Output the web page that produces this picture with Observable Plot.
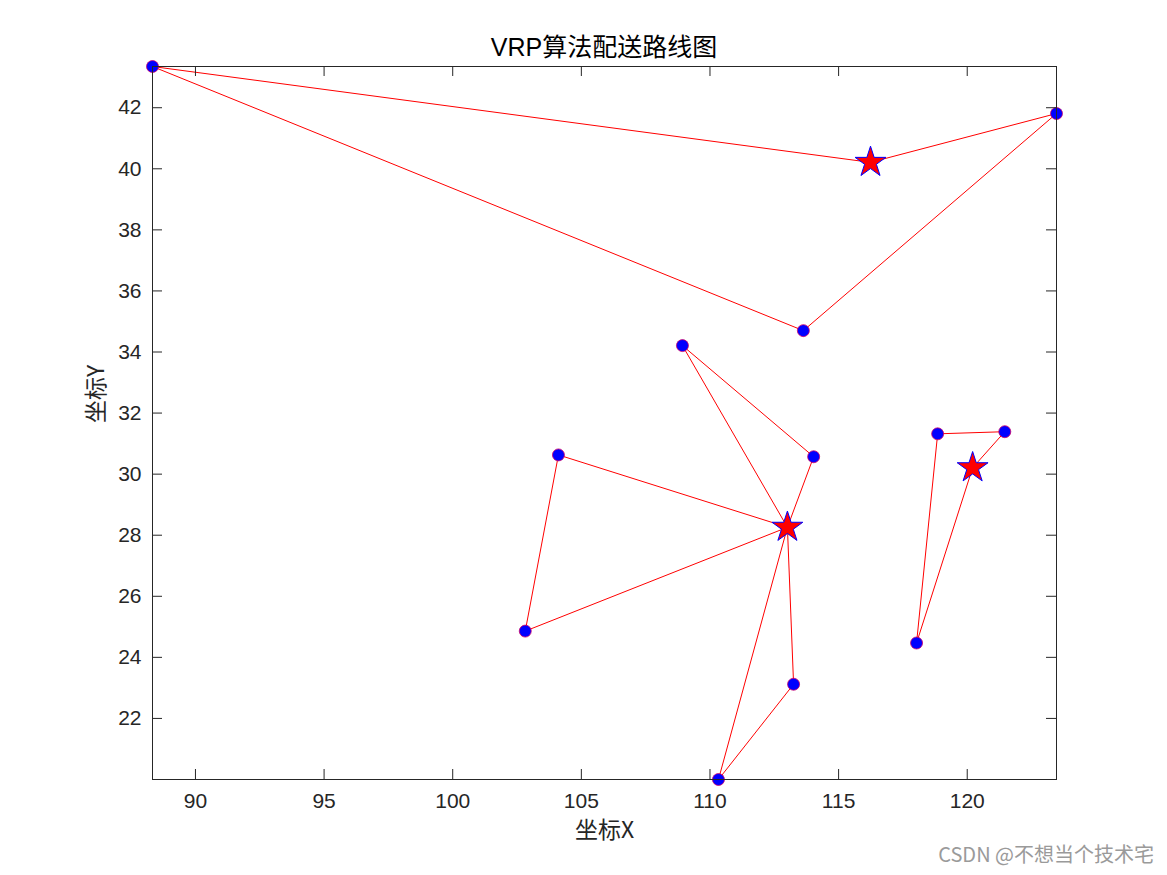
<!DOCTYPE html>
<html>
<head>
<meta charset="utf-8">
<script src="https://cdn.jsdelivr.net/npm/d3@7"></script>
<script src="https://cdn.jsdelivr.net/npm/@observablehq/plot@0.6"></script>
<style>
  html, body { margin: 0; padding: 0; background: #fff; }
  #wrap { position: relative; width: 1167px; height: 875px; overflow: hidden; }
  #title { box-sizing: border-box; height: 61px; padding-top: 33px; padding-left: 152px; width: 1056px;
    text-align: center; font: 25px/28px "Liberation Sans", "Noto Sans CJK SC", sans-serif; color: #000; }
  #mark { position: absolute; right: 13px; top: 842px; font: 20px/24px "Noto Sans CJK SC", "Liberation Sans", sans-serif; color: #9a9a9a; }
</style>
</head>
<body>
<div id="wrap">
  <div id="title">VRP算法配送路线图</div>
  <div id="chart"></div>
  <div id="mark">CSDN @不想当个技术宅</div>
</div>
<script>
// Depots (stars)
const depotX = [116.24, 113.01, 120.21];
const depotY = [40.21, 28.26, 30.21];
// Customers (blue dots)
const customerX = [88.33, 113.63, 123.47, 108.93, 114.03, 104.11, 102.82, 110.33, 113.25, 121.46, 118.85, 118.03];
const customerY = [43.35, 34.70, 41.81, 34.21, 30.57, 30.63, 24.86, 20.00, 23.12, 31.39, 31.32, 24.47];
// Routes: depot index and ordered customer indices
const routeDepot = [0, 1, 1, 1, 2];
const routeStops = [[0, 1, 2], [3, 4], [5, 6], [7, 8], [9, 10, 11]];
// Tick labels
const xTicks = [90, 95, 100, 105, 110, 115, 120];
const yTicks = [22, 24, 26, 28, 30, 32, 34, 36, 38, 40, 42];
const xLabel = "坐标X";
const yLabel = "坐标Y";

const depots = depotX.map((x, i) => ({x, y: depotY[i]}));
const customers = customerX.map((x, i) => ({x, y: customerY[i]}));
const lineRows = [];
routeStops.forEach((stops, r) => {
  const d = routeDepot[r];
  lineRows.push({route: r, x: depotX[d], y: depotY[d]});
  stops.forEach(s => lineRows.push({route: r, x: customerX[s], y: customerY[s]}));
  lineRows.push({route: r, x: depotX[d], y: depotY[d]});
});
const allX = customerX.concat(depotX);
const allY = customerY.concat(depotY);

const W = 1167, H = 814, mT = 5, mR = 111, mB = 96, mL = 152;
const innerW = W - mL - mR, innerH = H - mT - mB, tick = 10;
const axisColor = "#262626";

const chart = Plot.plot({
  width: W, height: H,
  marginTop: mT, marginRight: mR, marginBottom: mB, marginLeft: mL,
  x: {domain: d3.extent(allX), label: null},
  y: {domain: d3.extent(allY), label: null},
  style: {fontFamily: "'Liberation Sans', 'Noto Sans CJK SC', sans-serif", color: axisColor, background: "white", overflow: "visible"},
  marks: [
    Plot.line(lineRows, {x: "x", y: "y", z: "route", stroke: "#ff0000", strokeWidth: 1}),
    Plot.dot(customers, {x: "x", y: "y", r: 6, fill: "#0000ff", stroke: "#d0006a", strokeWidth: 0.8}),
    Plot.dot(depots, {x: "x", y: "y", symbol: "star", r: 9.7, fill: "#ff0000", stroke: "#0000ff", strokeWidth: 1}),
    Plot.tickX(xTicks, {x: d => d, insetTop: innerH - tick, stroke: axisColor}),
    Plot.tickX(xTicks, {x: d => d, insetBottom: innerH - tick, stroke: axisColor}),
    Plot.tickY(yTicks, {y: d => d, insetLeft: innerW - tick, stroke: axisColor}),
    Plot.tickY(yTicks, {y: d => d, insetRight: innerW - tick, stroke: axisColor}),
    Plot.frame({stroke: axisColor}),
    Plot.axisX(xTicks, {tickSize: 0, tickPadding: 14, fontSize: 21, label: null, fill: axisColor}),
    Plot.axisY(yTicks, {tickSize: 0, tickPadding: 11, fontSize: 21, label: null, fill: axisColor}),
    Plot.text([xLabel], {text: d => d, frameAnchor: "bottom", dy: 58, fontSize: 23, fill: axisColor,
      fontFamily: "'Noto Sans CJK SC', sans-serif"}),
    Plot.text([yLabel], {text: d => d, frameAnchor: "left", dx: -56, rotate: -90, fontSize: 23, fill: axisColor,
      fontFamily: "'Noto Sans CJK SC', sans-serif"})
  ]
});
document.getElementById("chart").appendChild(chart);
</script>
</body>
</html>
